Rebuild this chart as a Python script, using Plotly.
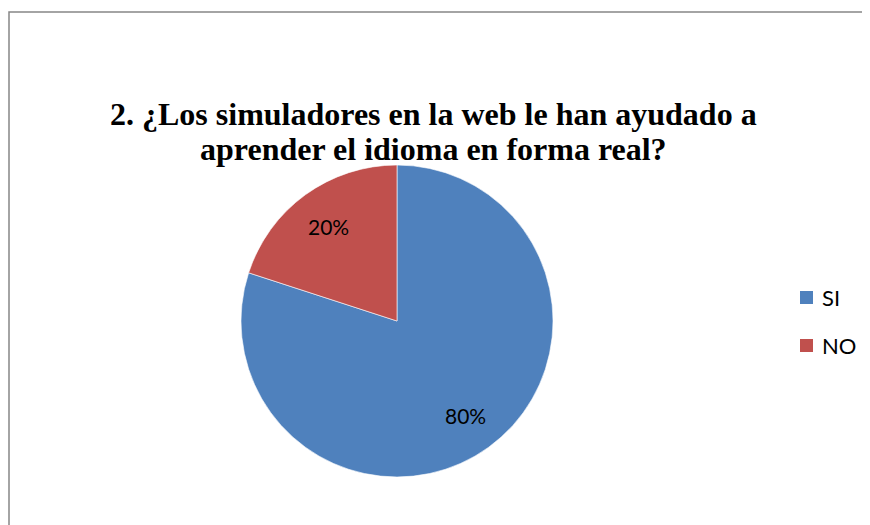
import math
import plotly.graph_objects as go

labels = ["SI", "NO"]
values = [80, 20]
colors = ["#4F81BD", "#C0504D"]
title_lines = ["2. ¿Los simuladores en la web le han ayudado a", "aprender el idioma en forma real?"]

# page offset of the figure inside the browser body (default 8px margin)
OFF = 8
W, H = 870 - OFF, 525 - OFF


def px(x):
    return (x - OFF) / W


def py(y):
    return 1 - (y - OFF) / H


cx, cy, R = 397, 321, 156

fig = go.Figure(go.Pie(
    labels=labels,
    values=values,
    sort=False,
    direction="clockwise",
    rotation=0,
    marker=dict(colors=colors, line=dict(color="white", width=0.6)),
    textinfo="none",
    showlegend=False,
    domain=dict(x=[px(cx - R), px(cx + R)], y=[py(cy + R), py(cy - R)]),
    hoverinfo="label+percent",
))

shapes = [dict(type="rect", xref="paper", yref="paper",
               x0=px(9), x1=px(900), y0=py(560), y1=py(12),
               line=dict(color="#868686", width=1.5), fillcolor="rgba(0,0,0,0)")]
annotations = []

# percentage labels placed at mid-angle of each slice
total = sum(values)
cum = 0
for v in values:
    mid = (cum + v / 2) / total * 2 * math.pi
    cum += v
    lx = cx + 0.75 * R * math.sin(mid)
    ly = cy - 0.75 * R * math.cos(mid)
    annotations.append(dict(xref="paper", yref="paper", x=px(lx), y=py(ly),
                            xanchor="center", yanchor="middle", showarrow=False,
                            text=f"{round(v / total * 100)}%",
                            font=dict(family="Lato", size=21, color="black")))

# legend
leg_y = [297, 345]
for lab, col, yy in zip(labels, colors, leg_y):
    shapes.append(dict(type="rect", xref="paper", yref="paper",
                       x0=px(800), x1=px(813), y0=py(yy + 7), y1=py(yy - 6),
                       line=dict(width=0), fillcolor=col))
    annotations.append(dict(xref="paper", yref="paper", x=px(820), y=py(yy),
                            xanchor="left", yanchor="middle", showarrow=False, text=lab,
                            font=dict(family="Lato", size=22, color="black")))

# title (two lines)
for line, base in zip(title_lines, [124, 158.5]):
    annotations.append(dict(xref="paper", yref="paper", x=px(433.5), y=py(base - 10),
                            xanchor="center", yanchor="middle", showarrow=False, text=line,
                            font=dict(family="Liberation Serif", size=32, color="black",
                                      weight="bold")))

fig.update_layout(
    width=W, height=H,
    margin=dict(l=0, r=0, t=0, b=0),
    paper_bgcolor="white",
    plot_bgcolor="white",
    shapes=shapes,
    annotations=annotations,
)

fig.write_html("out.html")
